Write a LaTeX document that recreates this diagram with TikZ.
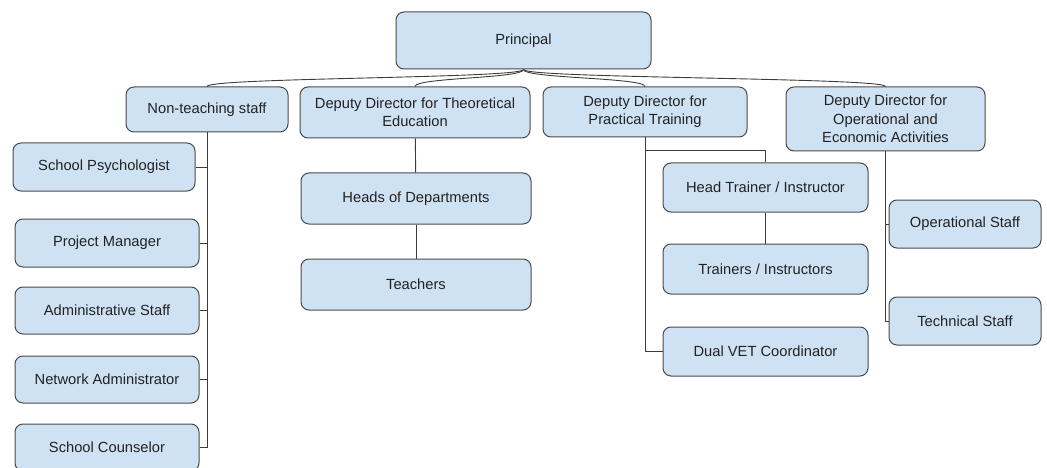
\documentclass[tikz,border=0pt]{standalone}
\usepackage{fontspec}
\setmainfont{Liberation Sans}
\definecolor{boxfill}{HTML}{CFE2F3}
\definecolor{boxline}{HTML}{4A4A4A}
\definecolor{linkcol}{HTML}{3C3C3C}
\definecolor{textcol}{HTML}{222222}
\begin{document}
\begin{tikzpicture}[x=1pt,y=-1pt,
    orgbox/.style={draw=boxline, fill=boxfill, line width=1pt, rounded corners=8pt,
      align=center, inner sep=2pt, text=textcol, font=\fontsize{14.7}{18.3}\selectfont},
    link/.style={draw=linkcol, line width=0.9pt}]
    \useasboundingbox (0,0) rectangle (1047,468);
    \node[orgbox, minimum width=255pt, minimum height=57pt] (principal) at (523.5,40.5) {Principal};
    \node[orgbox, minimum width=162pt, minimum height=45pt] (nonteach) at (207,109.5) {Non-teaching staff};
    \node[orgbox, minimum width=230pt, minimum height=51pt] (theo) at (415,112.5) {Deputy Director for Theoretical\\Education};
    \node[orgbox, minimum width=204pt, minimum height=50pt] (prac) at (645,112) {Deputy Director for\\Practical Training};
    \node[orgbox, minimum width=199pt, minimum height=64pt] (oper) at (885.5,119) {Deputy Director for\\Operational and\\Economic Activities};
    \node[orgbox, minimum width=182pt, minimum height=48pt] (psych) at (104,167) {School Psychologist};
    \node[orgbox, minimum width=184pt, minimum height=48pt] (projman) at (107,243) {Project Manager};
    \node[orgbox, minimum width=184pt, minimum height=47pt] (admin) at (107,310.5) {Administrative Staff};
    \node[orgbox, minimum width=184pt, minimum height=47pt] (netadm) at (107,379.5) {Network Administrator};
    \node[orgbox, minimum width=184pt, minimum height=47pt] (counsel) at (107,447.5) {School Counselor};
    \node[orgbox, minimum width=230pt, minimum height=51pt] (heads) at (416,198.5) {Heads of Departments};
    \node[orgbox, minimum width=230pt, minimum height=51pt] (teachers) at (416,284.5) {Teachers};
    \node[orgbox, minimum width=205pt, minimum height=49pt] (headtr) at (765.5,187.5) {Head Trainer / Instructor};
    \node[orgbox, minimum width=205pt, minimum height=50pt] (trainers) at (765.5,269) {Trainers / Instructors};
    \node[orgbox, minimum width=205pt, minimum height=49pt] (dualvet) at (765.5,351.5) {Dual VET Coordinator};
    \node[orgbox, minimum width=152pt, minimum height=48pt] (opstaff) at (965,224) {Operational Staff};
    \node[orgbox, minimum width=152pt, minimum height=48pt] (techstaff) at (965,321) {Technical Staff};
    \foreach \child in {nonteach,theo,prac,oper}
      \draw[link] (principal.south) .. controls +(0,9) and +(0,-9) .. (\child.north);
    \foreach \child in {psych,projman,admin,netadm,counsel}
      \draw[link] (nonteach.south) |- (\child.east);
    \draw[link] (theo) -- (heads);
    \draw[link] (heads) -- (teachers);
    \draw[link] (prac.south) -- ++(0,13) -| (headtr.north);
    \draw[link] (headtr) -- (trainers);
    \draw[link] (prac.south) |- (dualvet.west);
    \draw[link] (oper.south) |- (opstaff.west);
    \draw[link] (oper.south) |- (techstaff.west);
\end{tikzpicture}
\end{document}
